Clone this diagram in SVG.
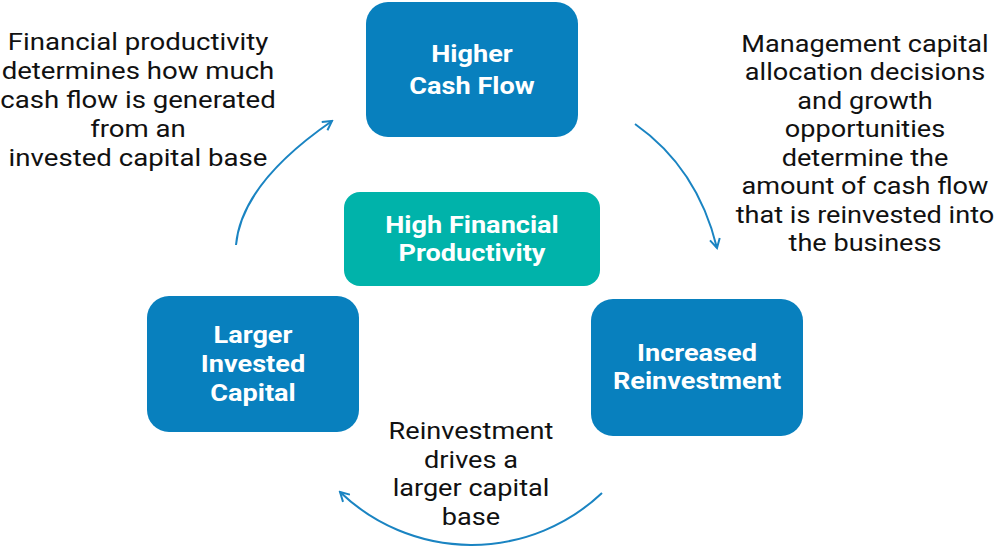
<svg xmlns="http://www.w3.org/2000/svg" width="1000" height="550" viewBox="0 0 1000 550">
  <style>
    .box { fill: #0880BE; }
    .teal { fill: #00B3AA; }
    .bt { font-family: Roboto, "Liberation Sans", sans-serif; font-weight: bold; font-size: 24px; fill: #ffffff; text-anchor: middle; }
    .note { font-family: Roboto, "Liberation Sans", sans-serif; font-size: 24px; fill: #111111; text-anchor: middle; }
    .conn { fill: none; stroke: #1A84C2; stroke-width: 2; marker-end: url(#arr); }
  </style>
  <defs>
    <marker id="arr" viewBox="0 0 12 12" refX="10" refY="6" markerWidth="12" markerHeight="12" markerUnits="userSpaceOnUse" orient="auto">
      <path d="M1,1 L10,6 L1,11" fill="none" stroke="#1A84C2" stroke-width="2"/>
    </marker>
  </defs>

  <g id="connectors">
    <path class="conn" d="M236,245 Q241.5,183.5 332,121"/>
    <path class="conn" d="M635,124 Q697.5,168 717,248"/>
    <path class="conn" d="M602,493 A190 190 0 0 1 340,492"/>
  </g>

  <g id="node-higher-cash-flow">
    <rect class="box" x="366" y="2" width="212" height="135" rx="22"/>
    <g transform="matrix(1.13,0,0,1,-61.36,0)">
      <text class="bt" x="472" y="62">Higher</text>
      <text class="bt" x="472" y="94">Cash Flow</text>
    </g>
  </g>

  <g id="node-high-financial-productivity">
    <rect class="teal" x="344" y="192" width="256" height="94" rx="16"/>
    <g transform="matrix(1.13,0,0,1,-61.36,0)">
      <text class="bt" x="472" y="233">High Financial</text>
      <text class="bt" x="472" y="261">Productivity</text>
    </g>
  </g>

  <g id="node-larger-invested-capital">
    <rect class="box" x="147" y="296" width="212" height="136" rx="22"/>
    <g transform="matrix(1.13,0,0,1,-32.89,0)">
      <text class="bt" x="253" y="343">Larger</text>
      <text class="bt" x="253" y="372">Invested</text>
      <text class="bt" x="253" y="401">Capital</text>
    </g>
  </g>

  <g id="node-increased-reinvestment">
    <rect class="box" x="591" y="299" width="212" height="137" rx="22"/>
    <g transform="matrix(1.13,0,0,1,-90.61,0)">
      <text class="bt" x="697" y="361">Increased</text>
      <text class="bt" x="697" y="389">Reinvestment</text>
    </g>
  </g>

  <g id="note-financial-productivity">
    <g transform="matrix(1.15,0,0,1,-20.7,0)">
      <text class="note" x="138" y="50">Financial productivity</text>
      <text class="note" x="138" y="79">determines how much</text>
      <text class="note" x="138" y="108">cash flow is generated</text>
      <text class="note" x="138" y="137">from an</text>
      <text class="note" x="138" y="166">invested capital base</text>
    </g>
  </g>

  <g id="note-management">
    <g transform="matrix(1.13,0,0,1,-112.45,0)">
      <text class="note" x="865" y="52">Management capital</text>
      <text class="note" x="865" y="80.5">allocation decisions</text>
      <text class="note" x="865" y="109">and growth</text>
      <text class="note" x="865" y="137.5">opportunities</text>
      <text class="note" x="865" y="166">determine the</text>
      <text class="note" x="865" y="194.5">amount of cash flow</text>
      <text class="note" x="865" y="223">that is reinvested into</text>
      <text class="note" x="865" y="251.5">the business</text>
    </g>
  </g>

  <g id="note-reinvestment">
    <g transform="matrix(1.13,0,0,1,-61.23,0)">
      <text class="note" x="471" y="439">Reinvestment</text>
      <text class="note" x="471" y="468">drives a</text>
      <text class="note" x="471" y="496">larger capital</text>
      <text class="note" x="471" y="525">base</text>
    </g>
  </g>
</svg>
